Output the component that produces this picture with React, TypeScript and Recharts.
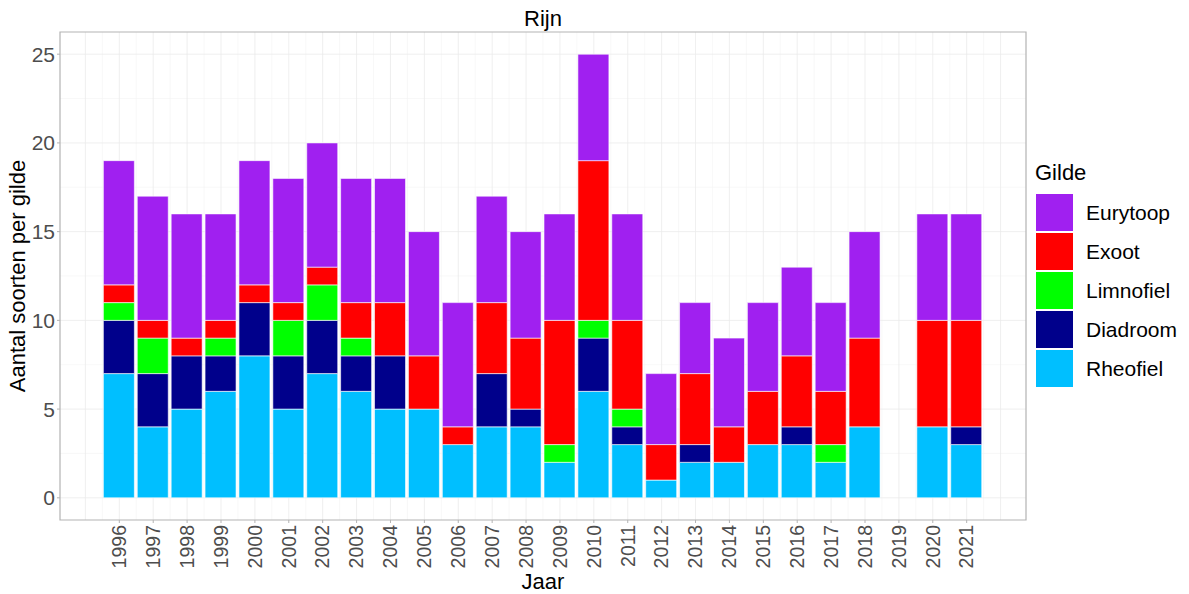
import React from "react";
import {
  BarChart,
  Bar,
  XAxis,
  YAxis,
  CartesianGrid,
  ReferenceArea,
} from "recharts";

// Years with data (2019 has no survey)
const years = [
  1996, 1997, 1998, 1999, 2000, 2001, 2002, 2003, 2004, 2005, 2006, 2007, 2008,
  2009, 2010, 2011, 2012, 2013, 2014, 2015, 2016, 2017, 2018, 2020, 2021,
];
const rheofiel = [7, 4, 5, 6, 8, 5, 7, 6, 5, 5, 3, 4, 4, 2, 6, 3, 1, 2, 2, 3, 3, 2, 4, 4, 3];
const diadroom = [3, 3, 3, 2, 3, 3, 3, 2, 3, 0, 0, 3, 1, 0, 3, 1, 0, 1, 0, 0, 1, 0, 0, 0, 1];
const limnofiel = [1, 2, 0, 1, 0, 2, 2, 1, 0, 0, 0, 0, 0, 1, 1, 1, 0, 0, 0, 0, 0, 1, 0, 0, 0];
const exoot = [1, 1, 1, 1, 1, 1, 1, 2, 3, 3, 1, 4, 4, 7, 9, 5, 2, 4, 2, 3, 4, 3, 5, 6, 6];
const eurytoop = [7, 7, 7, 6, 7, 7, 7, 7, 7, 7, 7, 6, 6, 6, 6, 6, 4, 4, 5, 5, 5, 5, 6, 6, 6];

const tickYears = [
  1996, 1997, 1998, 1999, 2000, 2001, 2002, 2003, 2004, 2005, 2006, 2007, 2008,
  2009, 2010, 2011, 2012, 2013, 2014, 2015, 2016, 2017, 2018, 2019, 2020, 2021,
];
const yTicks = [0, 5, 10, 15, 20, 25];

// stacking order bottom -> top
const series = [
  { key: "Rheofiel", color: "#00BFFF" },
  { key: "Diadroom", color: "#00008B" },
  { key: "Limnofiel", color: "#00FF00" },
  { key: "Exoot", color: "#FF0000" },
  { key: "Eurytoop", color: "#A020F0" },
];

const data = years.map((year, i) => ({
  year,
  Rheofiel: rheofiel[i],
  Diadroom: diadroom[i],
  Limnofiel: limnofiel[i],
  Exoot: exoot[i],
  Eurytoop: eurytoop[i],
}));

// grid lines (major at whole years / every 5, minor in between)
const majorX: number[] = [];
const minorX: number[] = [];
for (let v = 1995; v <= 2022; v += 1) {
  majorX.push(v);
  if (v < 2022) minorX.push(v + 0.5);
}
const minorY = [2.5, 7.5, 12.5, 17.5, 22.5];

const FONT = "'Liberation Sans', Arial, Helvetica, sans-serif";

const YearTick = (props: any) => {
  const { x, y, payload } = props;
  return (
    <text
      x={x}
      y={y}
      transform={`rotate(-90 ${x} ${y})`}
      textAnchor="end"
      dy="0.35em"
      fontSize={19.5}
      fill="#4d4d4d"
      fontFamily={FONT}
    >
      {payload.value}
    </text>
  );
};

const YTitle = (props: any) => {
  const { viewBox } = props;
  const x = viewBox.x + 25;
  const y = viewBox.y + viewBox.height / 2;
  return (
    <text
      x={x}
      y={y}
      transform={`rotate(-90 ${x} ${y})`}
      textAnchor="middle"
      fontSize={22}
      fill="#000"
      fontFamily={FONT}
    >
      Aantal soorten per gilde
    </text>
  );
};

const GildeLegend = () => (
  <div
    style={{
      position: "absolute",
      left: 1035,
      top: 160,
      width: 150,
      fontFamily: FONT,
      color: "#000",
    }}
  >
    <div style={{ fontSize: 22, lineHeight: "26px", height: 33 }}>Gilde</div>
    {[...series].reverse().map((s) => (
      <div key={s.key} style={{ display: "flex", alignItems: "center", height: 39 }}>
        <div
          style={{
            width: 39,
            height: 39,
            background: s.color,
            boxSizing: "border-box",
            border: "0.5px solid #fff",
          }}
        />
        <span style={{ marginLeft: 12, fontSize: 21 }}>{s.key}</span>
      </div>
    ))}
  </div>
);

const App = () => {
  return (
    <div
      style={{
        position: "absolute",
        left: 0,
        top: 0,
        width: 1189,
        height: 594,
        background: "#fff",
        fontFamily: FONT,
      }}
    >
      <svg
        width={1189}
        height={40}
        style={{ position: "absolute", left: 0, top: 0, pointerEvents: "none" }}
      >
        <text x={543} y={26} textAnchor="middle" fontSize={22} fill="#000" fontFamily={FONT}>
          Rijn
        </text>
      </svg>
      <BarChart
        width={1189}
        height={594}
        data={data}
        margin={{ top: 32, right: 163, bottom: 0, left: 0 }}
      >
        <CartesianGrid
          stroke="#f4f4f4"
          strokeWidth={0.6}
          verticalValues={minorX}
          horizontalValues={minorY}
        />
        <CartesianGrid
          stroke="#ebebeb"
          strokeWidth={0.8}
          verticalValues={majorX}
          horizontalValues={yTicks}
        />
        <XAxis
          dataKey="year"
          type="number"
          domain={[1994.25, 2022.75]}
          allowDataOverflow
          ticks={tickYears}
          interval={0}
          height={74}
          axisLine={false}
          tickLine={{ stroke: "#b3b3b3" }}
          tickSize={3}
          tickMargin={2}
          tick={<YearTick />}
          label={{
            value: "Jaar",
            position: "insideBottom",
            offset: 5,
            fill: "#000",
            fontSize: 22,
            fontFamily: FONT,
          }}
        />
        <YAxis
          type="number"
          domain={[-1.25, 26.25]}
          allowDataOverflow
          ticks={yTicks}
          interval={0}
          width={60}
          axisLine={false}
          tickLine={{ stroke: "#b3b3b3" }}
          tickSize={3}
          tickMargin={2}
          tick={{ fontSize: 21, fill: "#4d4d4d", fontFamily: FONT }}
          label={<YTitle />}
        />
        {series.map((s) => (
          <Bar
            key={s.key}
            dataKey={s.key}
            stackId="gilde"
            fill={s.color}
            stroke="#ffffff"
            strokeWidth={0.6}
            barSize={31}
            isAnimationActive={false}
          />
        ))}
        <ReferenceArea
          x1={1994.25}
          x2={2022.75}
          y1={-1.25}
          y2={26.25}
          fill="none"
          fillOpacity={0}
          stroke="#b3b3b3"
          strokeWidth={1.2}
          ifOverflow="visible"
        />
      </BarChart>
      <GildeLegend />
    </div>
  );
};

export default App;
